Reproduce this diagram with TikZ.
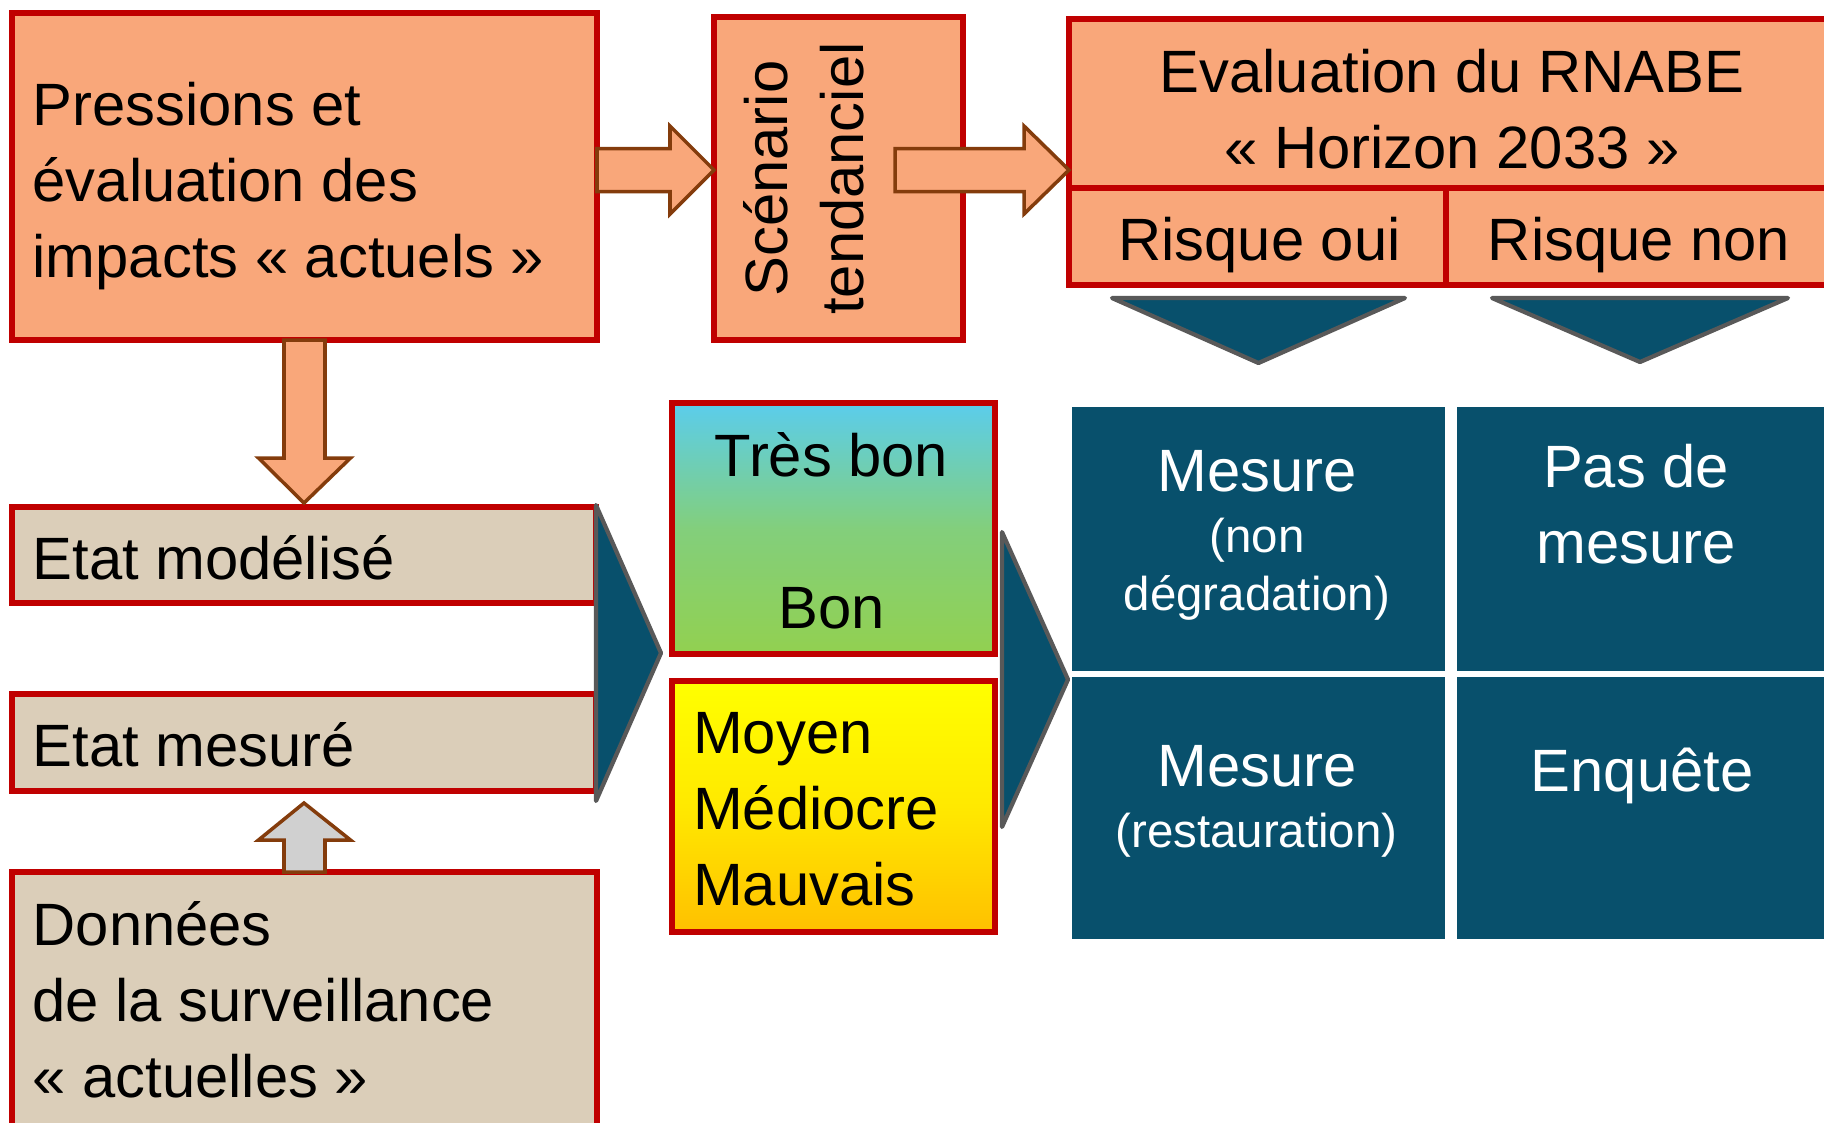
\documentclass[tikz,border=0pt]{standalone}
\usepackage{fontspec}
\setmainfont{Liberation Sans}
\usetikzlibrary{calc,positioning}

\definecolor{saumon}{RGB}{249,167,122}
\definecolor{rouge}{RGB}{192,0,0}
\definecolor{beige}{RGB}{219,206,185}
\definecolor{petrole}{RGB}{8,80,108}
\definecolor{brun}{RGB}{132,60,12}
\definecolor{grisbord}{RGB}{89,89,89}
\definecolor{grisclair}{RGB}{208,208,208}
\definecolor{ciel}{RGB}{91,205,236}
\definecolor{vert}{RGB}{146,208,80}
\definecolor{jaune}{RGB}{255,255,0}
\definecolor{orangej}{RGB}{255,192,0}

\newcommand{\txtgrand}{\fontsize{17}{21.6}\selectfont}
\newcommand{\txtpetit}{\fontsize{13.5}{16.5}\selectfont}

\begin{document}
\begin{tikzpicture}[
    box/.style={draw=rouge, line width=1.8pt, inner sep=0pt, outer sep=0pt},
    cell/.style={fill=petrole, inner sep=0pt, outer sep=0pt, minimum width=3.73cm},
    lbl/.style={font=\txtgrand, inner sep=0pt, align=left},
    lblw/.style={lbl, text=white, align=center},
    fat/.style={fill=saumon, draw=brun, line width=1pt},
    chev/.style={fill=petrole, draw=grisbord, line width=1.2pt, line join=round}
  ]
    \useasboundingbox (0,0) rectangle (18.24,-11.22);
    \clip (0,0) rectangle (18.24,-11.22);

    % boites du haut
    \node[box, fill=saumon, minimum width=5.85cm, minimum height=3.27cm] (pres) at (3.045,-1.765) {};
    \node[box, fill=saumon, minimum width=2.49cm, minimum height=3.23cm] (scen) at (8.385,-1.785) {};
    \node[box, fill=saumon, minimum width=7.66cm, minimum height=1.69cm] (evalh) at (14.52,-1.035) {};
    \node[box, fill=saumon, minimum width=3.77cm, minimum height=0.97cm] (roui) at (12.575,-2.365) {};
    \node[box, fill=saumon, minimum width=3.89cm, minimum height=0.97cm] (rnon) at (16.405,-2.365) {};

    % boites de gauche
    \node[box, fill=beige, minimum width=5.84cm, minimum height=0.96cm] (mod) at (3.04,-5.55) {};
    \node[box, fill=beige, minimum width=5.84cm, minimum height=0.97cm] (mes) at (3.04,-7.425) {};
    \node[box, fill=beige, minimum width=5.85cm, minimum height=2.58cm] (don) at (3.045,-10.01) {};

    % etats
    \node[box, top color=ciel, bottom color=vert, middle color=vert!72!ciel, minimum width=3.23cm, minimum height=2.51cm] (bon) at (8.335,-5.285) {};
    \node[box, top color=jaune, bottom color=orangej, middle color=orangej!35!jaune, minimum width=3.23cm, minimum height=2.51cm] (moy) at (8.335,-8.065) {};

    % grille des mesures
    \node[cell, minimum height=2.64cm] (c11) at (12.585,-5.39) {};
    \node[cell, minimum height=2.64cm] (c12) at (16.43,-5.39) {};
    \node[cell, minimum height=2.62cm] (c21) at (12.585,-8.08) {};
    \node[cell, minimum height=2.62cm] (c22) at (16.43,-8.08) {};

    % textes (ancre base = derniere ligne)
    \node[lbl, anchor=base west] (prestxt) at ($(pres.north west)+(0.20,-2.64)$) {Pressions et\\évaluation des\\impacts « actuels »};
    \node[lbl, anchor=base, align=center, rotate=90] (scentxt) at ($(scen.center)+(0.245,0)$) {Scénario\\tendanciel};
    \node[lbl, anchor=base, align=center] (evaltxt) at ($(evalh.north)+(0,-1.49)$) {Evaluation du RNABE\\« Horizon 2033 »};
    \node[lbl, anchor=base] (rouitxt) at ($(roui.south)+(0.02,0.25)$) {Risque oui};
    \node[lbl, anchor=base] (rnontxt) at ($(rnon.south)+(-0.015,0.25)$) {Risque non};
    \node[lbl, anchor=base west] (modtxt) at ($(mod.south west)+(0.20,0.24)$) {Etat modélisé};
    \node[lbl, anchor=base west] (mestxt) at ($(mes.south west)+(0.20,0.25)$) {Etat mesuré};
    \node[lbl, anchor=base west] (dontxt) at ($(don.north west)+(0.20,-2.25)$) {Données\\de la surveillance\\« actuelles »};
    \node[lbl, anchor=base, align=center] (bontxt) at ($(bon.north)+(-0.02,-2.25)$) {Très bon\\ \\Bon};
    \node[lbl, anchor=base west] (moytxt) at ($(moy.north west)+(0.205,-2.24)$) {Moyen\\Médiocre\\Mauvais};

    \node[lblw, anchor=base] (mes1) at ($(c11.north)+(-0.015,-0.84)$) {Mesure};
    \node[lblw, anchor=base, font=\txtpetit] (non1) at ($(c11.north)+(-0.015,-2.03)$) {(non\\dégradation)};
    \node[lblw, anchor=base] (pasm) at ($(c12.north)+(-0.07,-1.56)$) {Pas de\\mesure};
    \node[lblw, anchor=base] (mes2) at ($(c21.north)+(-0.015,-1.09)$) {Mesure};
    \node[lblw, anchor=base, font=\txtpetit] (rest) at ($(c21.north)+(-0.02,-1.70)$) {(restauration)};
    \node[lblw, anchor=base] (enq) at ($(c22.north)+(-0.01,-1.14)$) {Enquête};

    % grosses fleches
    \draw[fat] ($(pres.east)+(0,0.28)$) -- ++(0.73,0) -- ++(0,0.225)
      -- ($(scen.west)+(0,0.085)$) -- ++(-0.44,-0.44) -- ++(0,0.225)
      -- ($(pres.east)+(0,-0.15)$) -- cycle;
    \draw[fat] ($(scen.east)+(-0.68,0.30)$) -- ++(1.29,0) -- ++(0,0.225)
      -- ($(evalh.south west)+(0,0.18)$) -- ++(-0.45,-0.44) -- ++(0,0.225)
      -- ($(scen.east)+(-0.68,-0.13)$) -- cycle;
    \draw[fat] ($(pres.south)+(-0.205,0)$) -- ++(0,-1.18) -- ++(-0.255,0)
      -- ($(mod.north)+(0,0.04)$) -- ++(0.465,0.45) -- ++(-0.255,0)
      -- ($(pres.south)+(0.205,0)$) -- cycle;
    \draw[fat, fill=grisclair] ($(don.north)+(-0.205,0)$) -- ++(0,0.32) -- ++(-0.255,0)
      -- ($(mes.south)+(0,-0.12)$) -- ++(0.465,-0.37) -- ++(-0.255,0)
      -- ($(don.north)+(0.205,0)$) -- cycle;

    % chevrons
    \coordinate (ch1a) at ($(mod.north east)+(0,0.02)$);
    \coordinate (ch1b) at ($(mes.south east)+(0,-0.10)$);
    \draw[chev] (ch1a) -- (ch1b) -- ($(ch1a)!0.5!(ch1b)+(0.65,0)$) -- cycle;
    \coordinate (ch2a) at ($(bon.east)+(0.07,-0.035)$);
    \coordinate (ch2b) at ($(moy.east)+(0.07,-0.205)$);
    \draw[chev] (ch2a) -- (ch2b) -- ($(ch2a)!0.5!(ch2b)+(0.66,0)$) -- cycle;
    \draw[chev] ($(roui.south)+(-1.455,-0.13)$) -- ($(roui.south)+(1.475,-0.13)$)
      -- ($(c11.north)+(0,0.44)$) -- cycle;
    \draw[chev] ($(rnon.south)+(-1.485,-0.13)$) -- ($(rnon.south)+(1.475,-0.13)$)
      -- ($(c12.north)+(-0.03,0.45)$) -- cycle;
  \end{tikzpicture}
\end{document}
